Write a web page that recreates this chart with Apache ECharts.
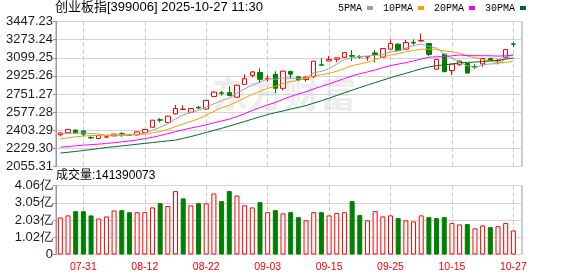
<!DOCTYPE html>
<html><head><meta charset="utf-8">
<script src="https://cdn.jsdelivr.net/npm/echarts@6/dist/echarts.min.js"></script>
<style>html,body{margin:0;padding:0;background:#fff}#c{width:578px;height:276px}</style>
</head><body><div id="c"></div>
<script>
const dates = ['07-28','07-29','07-30','07-31','08-01','08-04','08-05','08-06','08-07','08-08',
 '08-11','08-12','08-13','08-14','08-15','08-18','08-19','08-20','08-21','08-22',
 '08-25','08-26','08-27','08-28','08-29','09-01','09-02','09-03','09-04','09-05',
 '09-08','09-09','09-10','09-11','09-12','09-15','09-16','09-17','09-18','09-19',
 '09-22','09-23','09-24','09-25','09-26','09-29','09-30','10-09','10-10','10-13',
 '10-14','10-15','10-16','10-17','10-20','10-21','10-22','10-23','10-24','10-27'];
const opens = [2360,2380,2405,2396,2334,2324,2338,2349,2370,2360,
 2358,2382,2432,2504,2478,2560,2603,2576,2624,2607,
 2728,2762,2764,2720,2844,2930,2958,2898,2940,2806,
 2968,2916,2890,2918,3032,3068,3085,3104,3120,3112,
 3106,3146,3104,3182,3230,3182,3246,3260,3236,2990,
 3134,2976,3032,3044,3016,3040,3094,3070,3104,3232];
const closes = [2378,2410,2376,2366,2330,2352,2340,2366,2365,2356,
 2388,2411,2500,2500,2538,2612,2605,2612,2618,2690,
 2770,2758,2738,2835,2898,2963,2892,2902,2806,2970,
 2942,2888,2912,3066,3028,3083,3098,3150,3114,3106,
 3110,3130,3188,3236,3168,3245,3240,3264,3130,3082,
 2966,3038,3068,2952,3010,3092,3080,3075,3178,3228];
const lows = [2345,2377,2372,2348,2318,2318,2332,2346,2340,2350,
 2355,2378,2428,2478,2474,2555,2600,2572,2604,2604,
 2722,2735,2730,2716,2838,2910,2856,2870,2760,2786,
 2903,2875,2870,2905,3026,3066,3055,3100,3068,3090,
 3070,3052,3100,3178,3160,3178,3222,3258,3116,2985,
 2960,2934,3025,2948,2990,3012,3070,3038,3096,3200];
const highs = [2382,2415,2410,2402,2345,2356,2345,2368,2385,2366,
 2392,2415,2503,2520,2542,2645,2643,2614,2636,2694,
 2776,2780,2825,2840,2940,2972,2998,2932,2970,2975,
 2975,2925,2925,3070,3095,3118,3100,3155,3173,3125,
 3112,3172,3192,3276,3238,3270,3275,3333,3240,3086,
 3140,3040,3078,3048,3038,3098,3096,3085,3182,3252];
const ma5 = [2370,2374,2376,2378,2372,2367,2353,2351,2351,2356,
 2363,2377,2404,2431,2467,2512,2551,2573,2595,2625,
 2657,2688,2713,2758,2800,2838,2865,2897,2892,2906,
 2903,2902,2904,2956,2968,2995,3037,3085,3095,3110,
 3116,3122,3130,3154,3166,3193,3215,3231,3209,3192,
 3136,3096,3057,3021,3007,3032,3040,3042,3087,3131];
const ma10 = [2318,2330,2340,2348,2352,2355,2357,2359,2361,2364,
 2365,2365,2377,2391,2412,2438,2464,2489,2513,2546,
 2585,2619,2643,2677,2713,2748,2776,2805,2825,2853,
 2870,2883,2901,2924,2937,2949,2970,2995,3025,3039,
 3056,3080,3107,3124,3138,3155,3169,3180,3182,3179,
 3165,3156,3144,3115,3100,3084,3068,3049,3054,3069];
const ma20 = [2240,2247,2254,2260,2265,2270,2276,2284,2292,2300,
 2310,2322,2336,2352,2370,2390,2408,2424,2440,2455,
 2475,2492,2510,2534,2562,2593,2620,2647,2669,2700,
 2728,2751,2772,2800,2825,2848,2873,2900,2925,2946,
 2963,2982,3004,3024,3038,3052,3069,3087,3104,3109,
 3110,3118,3126,3120,3119,3119,3118,3115,3118,3124];
const ma30 = [2184,2192,2200,2209,2218,2228,2238,2245,2253,2261,
 2269,2277,2285,2293,2301,2309,2325,2343,2362,2382,
 2402,2422,2443,2465,2487,2510,2532,2554,2572,2588,
 2607,2623,2640,2664,2687,2711,2737,2763,2788,2813,
 2837,2861,2884,2908,2929,2950,2972,2993,3011,3024,
 3030,3040,3051,3055,3058,3063,3069,3075,3087,3096];
// volume in 亿
const volumes = [2.18,2.30,2.55,2.55,2.30,2.12,2.24,2.59,2.61,2.49,
 2.49,2.49,2.77,3.02,2.85,3.73,3.30,2.89,3.02,3.01,
 3.59,3.14,3.73,3.47,2.89,2.77,3.08,2.49,2.61,2.42,
 2.49,2.20,2.01,2.49,2.49,2.30,2.44,2.49,3.14,2.32,
 2.01,2.55,2.24,2.30,2.14,2.01,1.95,2.30,2.20,2.14,
 2.20,1.85,1.77,1.79,1.54,1.71,1.61,1.67,1.85,1.4139];
const volUp = [1,1,0,0,0,1,1,1,0,0, 1,1,1,0,1,1,0,1,0,1,
 1,0,0,1,1,1,0,1,0,1, 0,0,1,1,0,1,1,1,0,0,
 1,1,1,1,0,1,1,1,0,0, 0,1,1,0,1,1,0,1,1,1];
const xLabels = ['07-31','08-12','08-22','09-03','09-15','09-25','10-15','10-27'];
const priceTicks = ['2055.31','2229.30','2403.29','2577.28','2751.27','2925.26','3099.25','3273.24','3447.23'];
const volTicks = ['0','1.02亿','2.03亿','3.05亿','4.06亿'];
const priceMin = 2055.31, priceMax = 3447.23, priceStep = 173.99;
const volMax = 4.06, volStep = 1.015;
const titleText = '创业板指[399006] 2025-10-27 11:30';
const volText = '成交量:141390073';
const maNames = ['5PMA','10PMA','20PMA','30PMA'];

const chart = echarts.init(document.getElementById('c'));
const isLabel = (i, v) => xLabels.indexOf(dates[i]) >= 0;
const dash = () => ({show:true, interval:isLabel, alignWithLabel:true, lineStyle:{color:'#c8c8c8', type:[4,3], width:1}});
const labelFont = 'Liberation Sans';
const mainG = {top:21.5, height:145};
const volG = {top:185.5, height:69};
const dataX = {left:56.5, width:460.7};
const frameX = {left:56, width:466};
const maColors = ['#a0a0a0','#f0a000','#ff00ff','#006a2e'];
const maData = [ma5, ma10, ma20, ma30];

const option = {
  animation:false,
  title:[
    {text:titleText, left:55, top:1, padding:0, textStyle:{fontSize:13, fontWeight:'normal', color:'#000', fontFamily:'Liberation Sans, Noto Sans CJK SC'}},
    {text:volText, left:56, top:170, padding:0, textStyle:{fontSize:12, fontWeight:'normal', color:'#000', fontFamily:'Liberation Sans, Noto Sans CJK SC'}}
  ],
  legend:{data:maNames, left:338, top:3, padding:0, align:'right', icon:'rect', itemWidth:6, itemHeight:4, itemGap:10,
    textStyle:{fontSize:10, color:'#000', fontFamily:'Liberation Mono'}},
  graphic:[{type:'text', left:212, top:76, silent:true,
    style:{text:'东方财富', font:'bold 36px "Noto Sans CJK SC"', fill:'rgba(0,0,0,0.07)'}}],
  grid:[
    Object.assign({}, dataX, mainG),
    Object.assign({}, dataX, volG),
    Object.assign({show:true, borderColor:'#999', borderWidth:1}, frameX, mainG),
    Object.assign({show:true, borderColor:'#999', borderWidth:1}, frameX, volG),
    Object.assign({}, dataX, {top:253.5, height:1})
  ],
  xAxis:[
    {type:'category', gridIndex:0, data:dates, boundaryGap:true, axisLine:{show:false}, axisTick:{show:false}, axisLabel:{show:false}, splitLine:dash()},
    {type:'category', gridIndex:1, data:dates, boundaryGap:true, axisLine:{show:false}, axisTick:{show:false}, axisLabel:{show:false}, splitLine:dash()},
    {type:'value', gridIndex:2, min:0, max:1, show:false},
    {type:'value', gridIndex:3, min:0, max:1, show:false},
    {type:'category', gridIndex:4, data:dates, boundaryGap:true, axisLine:{show:false}, axisTick:{show:false}, splitLine:{show:false},
      axisLabel:{show:true, interval:isLabel, color:'#ff0000', fontSize:10.5, fontFamily:labelFont, margin:7}}
  ],
  yAxis:[
    {type:'value', gridIndex:0, min:priceMin, max:priceMax, show:false},
    {type:'value', gridIndex:1, min:0, max:volMax, show:false},
    {type:'value', gridIndex:2, min:priceMin, max:priceMax, interval:priceStep,
      axisLine:{show:true, lineStyle:{color:'#999'}}, axisTick:{show:true, length:3, lineStyle:{color:'#999'}},
      axisLabel:{formatter:(v,i)=>priceTicks[i], color:'#1a1a2e', fontSize:13, fontFamily:labelFont, margin:3},
      splitLine:{show:true, lineStyle:{color:'#d4d4d4', width:1}}},
    {type:'value', gridIndex:3, min:0, max:volMax, interval:volStep,
      axisLine:{show:true, lineStyle:{color:'#999'}}, axisTick:{show:true, length:3, lineStyle:{color:'#999'}},
      axisLabel:{formatter:(v,i)=>volTicks[i], color:'#1a1a2e', fontSize:13, fontFamily:labelFont, margin:3},
      splitLine:{show:true, lineStyle:{color:'#d4d4d4', width:1}}},
    {type:'value', gridIndex:4, min:0, max:1, show:false}
  ],
  series:[
    {type:'candlestick', name:'K', xAxisIndex:0, yAxisIndex:0, barWidth:5,
      data:dates.map((d,i)=>[opens[i], closes[i], lows[i], highs[i]]),
      itemStyle:{color:'#ffffff', color0:'#008000', borderColor:'#ff0000', borderColor0:'#008000', borderWidth:1}},
    ...maNames.map((n,k)=>({type:'line', name:n, xAxisIndex:0, yAxisIndex:0, data:maData[k], showSymbol:false, symbol:'none',
      color:maColors[k], lineStyle:{width:1, color:maColors[k]}, z:3})),
    {type:'bar', name:'VOL', xAxisIndex:1, yAxisIndex:1, barWidth:5,
      data:volumes.map((v,i)=>({value:v, itemStyle: volUp[i] ? {color:'#ffffff', borderColor:'#ff0000', borderWidth:1} : {color:'#008000', borderColor:'#008000', borderWidth:1}}))}
  ]
};
chart.setOption(option);
</script>
</body></html>
